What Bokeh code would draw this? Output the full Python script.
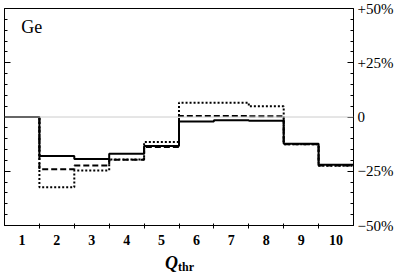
from bokeh.plotting import figure
from bokeh.models import (LinearAxis, FixedTicker, Span, Label, Range1d, Div)
from bokeh.layouts import column
from bokeh.embed import file_html
from bokeh.resources import INLINE

# ---- data ----
bins = [1, 2, 3, 4, 5, 6, 7, 8, 9, 10]
solid = [0, -18.0, -19.4, -16.9, -13.4, -2.1, -1.5, -1.7, -12.3, -22.0]
dashed = [0, -24.1, -22.3, -19.7, -13.8, 0.5, 0.5, 0.3, -12.6, -22.4]
dotted = [0, -32.4, -24.6, -19.6, -11.5, 6.6, 6.6, 4.9, -12.5, -22.5]
x_tick_labels = {b: str(b) for b in bins}
y_ticks = [-50, -25, 0, 25, 50]
y_tick_labels = {50: "+50%", 25: "+25%", 0: "0", -25: "\u221225%", -50: "\u221250%"}
y_minor = [v for v in range(-50, 51, 5) if v % 25 != 0]

FONT = "Liberation Serif"

p = figure(frame_width=349, frame_height=217, output_backend="svg",
           toolbar_location=None, y_axis_location="right",
           x_range=Range1d(0.5, 10.5), y_range=Range1d(-50, 50),
           min_border_top=8, min_border_left=4, min_border_right=0,
           min_border_bottom=30, margin=0)
p.grid.visible = False
p.outline_line_color = "black"
p.outline_line_width = 1
p.background_fill_color = "white"
p.border_fill_color = "white"

# zero line
p.add_layout(Span(location=0, dimension="width", line_color="#cccccc", line_width=1))

def step_edges(vals):
    xs = [b - 0.5 for b in bins] + [bins[-1] + 0.5]
    ys = list(vals) + [vals[-1]]
    return xs, ys

for vals, dash in [(dotted, "2 2"), (dashed, "6 3"), (solid, "solid")]:
    xs, ys = step_edges(vals)
    p.step(xs, ys, mode="after", line_color="black", line_width=2, line_dash=dash)

# bottom axis
xa = p.xaxis[0]
xa.ticker = FixedTicker(ticks=bins, minor_ticks=[b + 0.5 for b in bins[:-1]])
xa.major_label_overrides = x_tick_labels
xa.major_tick_in = 0
xa.major_tick_out = 0
xa.minor_tick_in = 2
xa.minor_tick_out = 3
xa.minor_tick_line_color = "black"
xa.axis_line_color = "black"
xa.major_label_text_font = FONT
xa.major_label_text_font_style = "bold"
xa.major_label_text_font_size = "14px"
xa.major_label_text_color = "black"
xa.major_label_standoff = 6

# right axis
ya = p.yaxis[0]
ya.ticker = FixedTicker(ticks=y_ticks, minor_ticks=y_minor)
ya.major_label_overrides = y_tick_labels
ya.major_tick_in = 6
ya.major_tick_out = 0
ya.minor_tick_in = 3
ya.minor_tick_out = 0
ya.major_tick_line_color = "black"
ya.minor_tick_line_color = "black"
ya.axis_line_color = "black"
ya.major_label_text_font = FONT
ya.major_label_text_font_size = "15px"
ya.major_label_text_color = "black"
ya.major_label_standoff = 4

# left axis (ticks only)
la = LinearAxis(ticker=FixedTicker(ticks=y_ticks, minor_ticks=y_minor),
                major_tick_in=6, major_tick_out=0, minor_tick_in=3, minor_tick_out=0,
                major_label_overrides={t: "" for t in y_ticks}, major_label_standoff=0,
                axis_line_color="black")
p.add_layout(la, "left")

# panel label
p.add_layout(Label(x=0.98, y=37, text="Ge", text_font=FONT, text_font_size="18px",
                   text_color="black"))

# x-axis title with subscript
xtitle = Div(
    text=('<div style="padding-left:165px; font-family:\'Liberation Serif\'; '
          'color:black; line-height:16px; white-space:nowrap;">'
          '<span style="font-size:18px; font-weight:bold; font-style:italic;">Q</span>'
          '<span style="font-size:12px; font-weight:bold; position:relative; top:2px;">thr</span>'
          '</div>'),
    width=390, height=18, margin=0)

layout = column(p, xtitle, spacing=0)
open("out.html", "w").write(file_html(layout, INLINE))
